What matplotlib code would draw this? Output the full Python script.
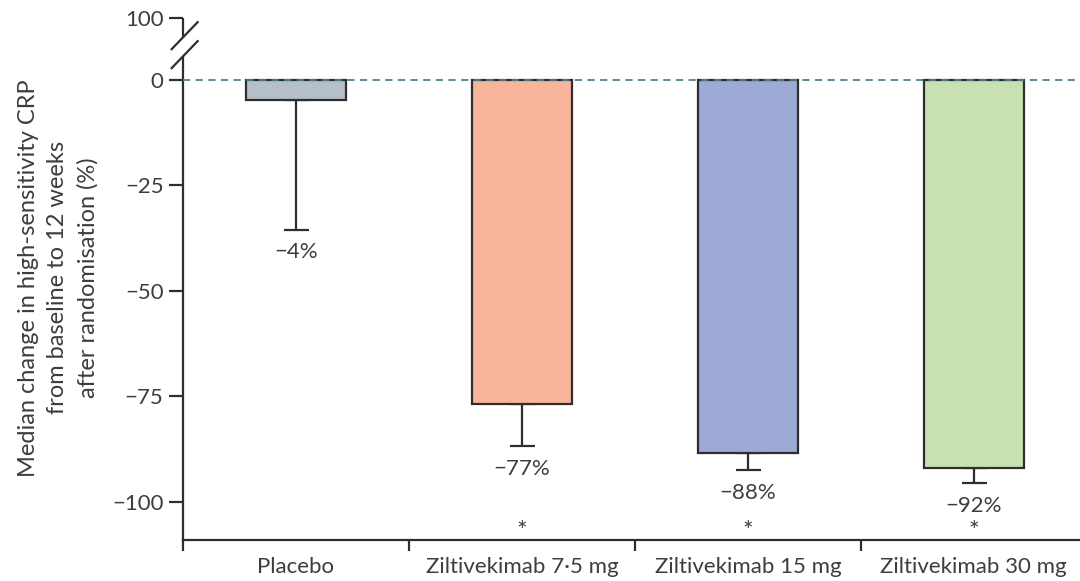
import numpy as np
import matplotlib.pyplot as plt

# data
groups = ["Placebo", "Ziltivekimab 7·5 mg", "Ziltivekimab 15 mg", "Ziltivekimab 30 mg"]
median_change = [-4.7, -76.8, -88.4, -91.9]
lower_bound = [-35.5, -86.7, -92.4, -95.5]
value_labels = ["\u22124%", "\u221277%", "\u221288%", "\u221292%"]
significant = [False, True, True, True]
ytick_vals = [-100, -75, -50, -25, 0]
ytick_labels = ["\u2212100", "\u221275", "\u221250", "\u221225", "0"]

BAR_COLORS = ["#b5bfc8", "#f8b59b", "#9eaad6", "#c9e0b1"]
EDGE = "#2e2e2e"
TEXT = "#3d3d3d"
ZERO_LINE = "#4f7f8c"
FS = 16

plt.rcParams["font.family"] = ["Lato", "DejaVu Sans"]

fig = plt.figure(figsize=(10.8, 5.81), dpi=100)
ax = fig.add_axes([0.1694, 0.0706, 0.8306, 0.908])

x = np.arange(len(groups))
ax.set_xlim(-0.5, 3.47)
ax.set_ylim(-109, 16)

ax.bar(x, median_change, width=0.44, color=BAR_COLORS, edgecolor=EDGE,
       linewidth=1.6, zorder=3)

# one-sided (lower) error bars
err = np.array(median_change) - np.array(lower_bound)
ax.errorbar(x, median_change, yerr=[err, np.zeros_like(err)], fmt="none",
            ecolor=EDGE, elinewidth=1.6, capsize=9, capthick=1.6, zorder=2)

for xi, lo, lab, sig in zip(x, lower_bound, value_labels, significant):
    ax.text(xi, lo - 3.0, lab, ha="center", va="top", fontsize=FS, color=TEXT)
    if sig:
        ax.text(xi, -107.0, "*", ha="center", va="center", fontsize=18, color=TEXT)

# zero reference line
ax.axhline(0, color=ZERO_LINE, lw=1.3, ls=(0, (4, 3)), zorder=4)

# spines and broken y axis
for s in ["top", "right"]:
    ax.spines[s].set_visible(False)
ax.spines["left"].set_bounds(-109, 5.5)
ax.spines["left"].set_color(EDGE)
ax.spines["left"].set_linewidth(1.6)
ax.spines["bottom"].set_color(EDGE)
ax.spines["bottom"].set_linewidth(1.6)

top_val = 14.6
ax.set_yticks(ytick_vals + [top_val])
ax.set_yticklabels(ytick_labels + ["100"])
ax.tick_params(axis="y", length=10, width=1.6, color=EDGE, labelsize=FS,
               labelcolor=TEXT, pad=4)

ax.plot([-0.5, -0.5], [10, top_val], color=EDGE, lw=1.6, clip_on=False,
        solid_capstyle="butt")
# break marks
for yc in [10.0, 5.5]:
    ax.plot([-0.5 - 0.05, -0.5 + 0.065], [yc - 2.7, yc + 3.7], color=EDGE,
            lw=1.6, clip_on=False)

# x ticks: separators below the axis, labels centred under each bar
ax.set_xticks(x)
ax.set_xticklabels(groups)
ax.tick_params(axis="x", length=0, labelsize=FS, labelcolor=TEXT, pad=12)
ax.set_xticks([-0.5, 0.5, 1.5, 2.5], minor=True)
ax.tick_params(axis="x", which="minor", length=8, width=1.6, color=EDGE,
               direction="out")

fig.text(0.054, 0.522,
         "Median change in high-sensitivity CRP\nfrom baseline to 12 weeks\nafter randomisation (%)",
         rotation=90, ha="center", va="center", fontsize=17, color=TEXT,
         linespacing=1.5)

fig.savefig("out.png", dpi=100, facecolor="white")
